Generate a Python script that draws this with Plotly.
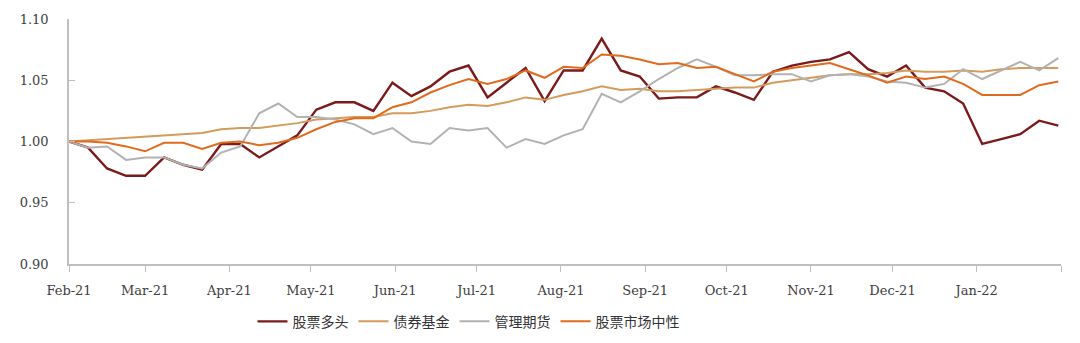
import pandas as pd
import plotly.graph_objects as go

# Weekly observation dates (Mondays), Feb-2021 to Jan-2022
dates = pd.date_range("2021-02-01", periods=53, freq="7D")

stock_long = [1.000, 0.995, 0.978, 0.972, 0.972, 0.987, 0.981, 0.977, 0.998, 0.998,
              0.987, 0.996, 1.005, 1.026, 1.032, 1.032, 1.025, 1.048, 1.037, 1.045,
              1.057, 1.062, 1.036, 1.048, 1.060, 1.033, 1.058, 1.058, 1.084, 1.058,
              1.053, 1.035, 1.036, 1.036, 1.045, 1.040, 1.034, 1.057, 1.062, 1.065,
              1.067, 1.073, 1.059, 1.053, 1.062, 1.044, 1.041, 1.031, 0.998, 1.002,
              1.006, 1.017, 1.013]

bond_fund = [1.000, 1.001, 1.002, 1.003, 1.004, 1.005, 1.006, 1.007, 1.010, 1.011,
             1.011, 1.013, 1.015, 1.018, 1.019, 1.020, 1.020, 1.023, 1.023, 1.025,
             1.028, 1.030, 1.029, 1.032, 1.036, 1.034, 1.038, 1.041, 1.045, 1.042,
             1.043, 1.041, 1.041, 1.042, 1.043, 1.044, 1.044, 1.048, 1.050, 1.052,
             1.054, 1.055, 1.055, 1.056, 1.058, 1.057, 1.057, 1.058, 1.057, 1.059,
             1.060, 1.060, 1.060]

managed_futures = [1.000, 0.995, 0.996, 0.985, 0.987, 0.987, 0.981, 0.978, 0.991, 0.996,
                   1.023, 1.031, 1.020, 1.020, 1.018, 1.014, 1.006, 1.011, 1.000, 0.998,
                   1.011, 1.009, 1.011, 0.995, 1.002, 0.998, 1.005, 1.010, 1.039, 1.032,
                   1.041, 1.051, 1.060, 1.067, 1.061, 1.054, 1.054, 1.055, 1.055, 1.049,
                   1.054, 1.055, 1.053, 1.049, 1.048, 1.044, 1.047, 1.059, 1.051, 1.058,
                   1.065, 1.058, 1.068]

market_neutral = [1.000, 1.000, 0.999, 0.996, 0.992, 0.999, 0.999, 0.994, 0.999, 1.000,
                  0.997, 0.999, 1.003, 1.010, 1.016, 1.019, 1.019, 1.028, 1.032, 1.040,
                  1.046, 1.051, 1.047, 1.051, 1.058, 1.052, 1.061, 1.060, 1.071, 1.070,
                  1.067, 1.063, 1.064, 1.060, 1.061, 1.055, 1.049, 1.057, 1.060, 1.062,
                  1.064, 1.059, 1.054, 1.048, 1.053, 1.051, 1.053, 1.047, 1.038, 1.038,
                  1.038, 1.046, 1.049]

series = [
    ("股票多头", stock_long, "#7B1A1A", 2.4),
    ("债券基金", bond_fund, "#D49B5C", 2.0),
    ("管理期货", managed_futures, "#B2B2B2", 2.0),
    ("股票市场中性", market_neutral, "#E06B1E", 2.0),
]

month_ticks = pd.date_range("2021-02-01", "2022-02-01", freq="MS")
month_labels = [d.strftime("%b-%y") for d in month_ticks[:-1]] + [""]

fig = go.Figure()
for name, vals, color, width in series:
    fig.add_trace(go.Scatter(
        x=dates, y=vals, name=name, mode="lines",
        line=dict(color=color, width=width),
    ))

axis_font = dict(family="DejaVu Serif, Liberation Serif, serif", size=13, color="#404040")

fig.update_layout(
    width=1080, height=343,
    margin=dict(l=69, r=19, t=19, b=79, autoexpand=False),
    paper_bgcolor="white", plot_bgcolor="white",
    showlegend=True,
    legend=dict(
        orientation="h", x=0.185, xanchor="left",
        yref="container", y=0.062, yanchor="middle",
        font=dict(family="Noto Sans CJK SC", size=14, color="#333333"),
        itemwidth=30,
    ),
    xaxis=dict(
        type="date",
        range=[month_ticks[0], month_ticks[-1]],
        tickmode="array", tickvals=month_ticks, ticktext=month_labels,
        ticks="outside", ticklen=6, tickcolor="#BFBFBF",
        ticklabelstandoff=8, automargin=False,
        showline=True, linecolor="#BFBFBF", linewidth=1.5,
        showgrid=False, zeroline=False,
        tickfont=axis_font,
    ),
    yaxis=dict(
        range=[0.90, 1.10], dtick=0.05, tickformat=".2f",
        ticks="inside", ticklen=6, tickcolor="#BFBFBF",
        ticklabelstandoff=16, automargin=False,
        showline=True, linecolor="#BFBFBF", linewidth=1.5,
        showgrid=False, zeroline=False,
        tickfont=axis_font,
    ),
)

fig.write_html("out.html")
